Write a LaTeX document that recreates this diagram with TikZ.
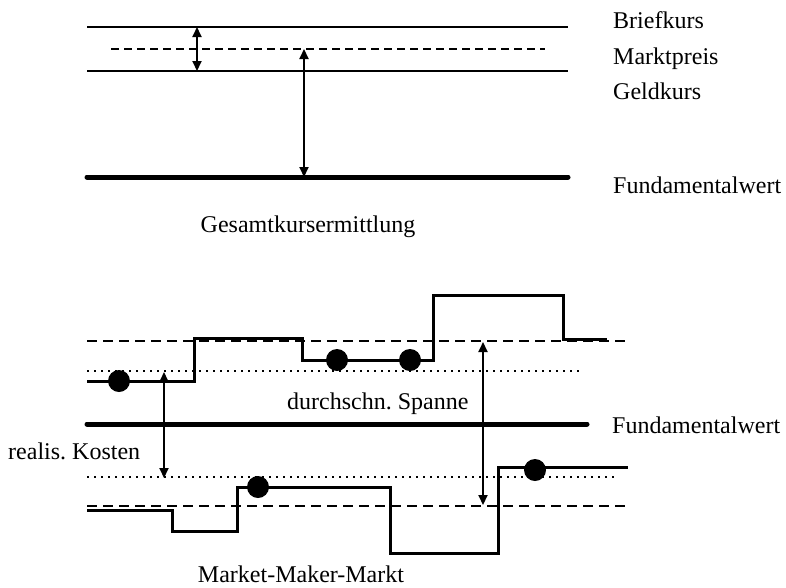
\documentclass[tikz,border=0pt]{standalone}
\usepackage{fontspec}
\setmainfont{Liberation Serif}
\usetikzlibrary{arrows.meta}
\frenchspacing
\begin{document}
\begin{tikzpicture}[x=1pt,y=-1pt,
  lbl/.style={anchor=base west,inner sep=0pt,font=\fontsize{24}{28}\selectfont},
  ttl/.style={anchor=base,inner sep=0pt,font=\fontsize{24}{28}\selectfont},
  thinline/.style={line width=2.6pt},
  thickline/.style={line width=5pt,line cap=round},
  dashline/.style={line width=2pt,dash pattern=on 8pt off 5pt},
  dashline2/.style={line width=2pt,dash pattern=on 10pt off 6pt},
  dotline/.style={line width=2.2pt,dash pattern=on 2pt off 5pt},
  stepline/.style={line width=3pt,line join=miter},
  dbl/.style={line width=2pt,{Triangle[length=10pt,width=9pt]}-{Triangle[length=10pt,width=9pt]}},
  bigdot/.style={fill=black,circle,minimum size=22pt,inner sep=0pt}]
\useasboundingbox[fill=white] (0,0) rectangle (786,587);

% ---------- top: Gesamtkursermittlung ----------
\coordinate (bk1) at (87,27);  \coordinate (bk2) at (568,27);
\coordinate (mp1) at (111,49); \coordinate (mp2) at (545,49);
\coordinate (gk1) at (87,71);  \coordinate (gk2) at (568,71);
\coordinate (fw1) at (87,177); \coordinate (fw2) at (568,177);
\draw[thinline] (bk1) -- (bk2);
\draw[dashline] (mp1) -- (mp2);
\draw[thinline] (gk1) -- (gk2);
\draw[thickline] (fw1) -- (fw2);

\coordinate (a1t) at (197,27); \coordinate (a1b) at (197,71);
\coordinate (a2t) at (304,49); \coordinate (a2b) at (304,177);
\draw[dbl] (a1t) -- (a1b);
\draw[dbl] (a2t) -- (a2b);

\node[lbl] (briefkurs) at (613,28) {Briefkurs};
\node[lbl] (marktpreis) at (613,64) {Marktpreis};
\node[lbl] (geldkurs) at (613,99) {Geldkurs};
\node[lbl] (fund1) at (613,193) {Fundamentalwert};
\node[ttl] (gesamt) at (308,232) {Gesamtkursermittlung};

% ---------- bottom: Market-Maker-Markt ----------
\coordinate (ud1) at (87,341); \coordinate (ud2) at (628,341);
\coordinate (uo1) at (87,371); \coordinate (uo2) at (583,371);
\coordinate (tf1) at (87,424); \coordinate (tf2) at (587,424);
\coordinate (lo1) at (87,477); \coordinate (lo2) at (618,477);
\coordinate (ld1) at (87,506); \coordinate (ld2) at (625,506);
\draw[dashline2] (ud1) -- (ud2);
\draw[dotline] (uo1) -- (uo2);
\draw[thickline] (tf1) -- (tf2);
\draw[dotline] (lo1) -- (lo2);
\draw[dashline2] (ld1) -- (ld2);

% upper step path
\draw[stepline] (87,381) -- (194,381) -- (194,338) -- (302,338) -- (302,360)
  -- (433,360) -- (433,295) -- (563,295) -- (563,339) -- (607,339);
% lower step path
\draw[stepline] (87,510) -- (172,510) -- (172,531) -- (237,531) -- (237,487)
  -- (390,487) -- (390,553) -- (498,553) -- (498,467) -- (628,467);

\node[bigdot] (d1) at (119,381) {};
\node[bigdot] (d2) at (337,360) {};
\node[bigdot] (d3) at (410,360) {};
\node[bigdot] (d4) at (258,487) {};
\node[bigdot] (d5) at (535,470) {};

\coordinate (b1t) at (164,372); \coordinate (b1b) at (164,478);
\coordinate (b2t) at (483,342); \coordinate (b2b) at (483,505);
\draw[dbl] (b1t) -- (b1b);
\draw[dbl] (b2t) -- (b2b);

\node[lbl] (spanne) at (287,409) {durchschn. Spanne};
\node[lbl] (fund2) at (612,433) {Fundamentalwert};
\node[lbl] (kosten) at (8,459) {realis. Kosten};
\node[ttl] (mmm) at (301,582) {Market-Maker-Markt};
\end{tikzpicture}
\end{document}
